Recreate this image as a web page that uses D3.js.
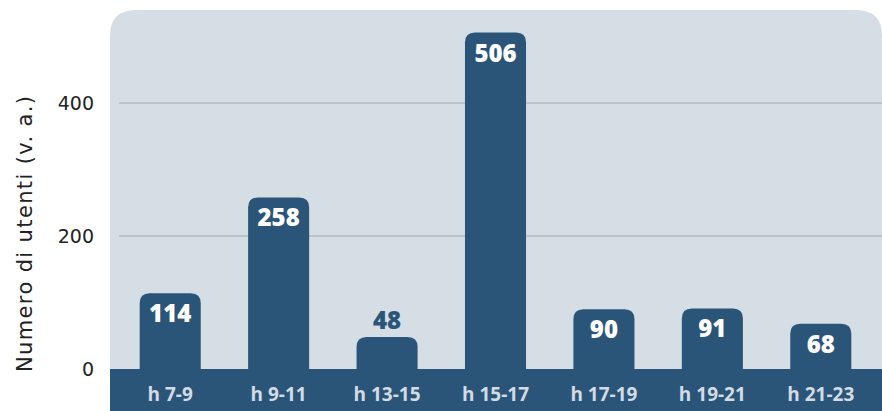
<!DOCTYPE html>
<html>
<head>
<meta charset="utf-8">
<script src="https://cdn.jsdelivr.net/npm/d3@7"></script>
<style>
  html, body { margin: 0; padding: 0; background: #fff; }
  svg { display: block; }
</style>
</head>
<body>
<div id="chart"></div>
<script>
// Fasce orarie e numero di utenti
const fasce = ["h 7-9", "h 9-11", "h 13-15", "h 15-17", "h 17-19", "h 19-21", "h 21-23"];
const utenti = [114, 258, 48, 506, 90, 91, 68];
const yTicks = [0, 200, 400];

const width = 882, height = 411;
const navy = "#2a5579";
const panel = "#d5dde5";

const svg = d3.select("#chart").append("svg")
  .attr("width", width)
  .attr("height", height);

const x = d3.scaleBand()
  .domain(fasce)
  .range([116, 875])
  .paddingInner(0.437)
  .paddingOuter(0.2185);

const y = d3.scaleLinear()
  .domain([0, 400])
  .range([369, 103]);

// panel background with rounded top corners
const px = 110, py = 10, pr = 26;
svg.append("path")
  .attr("d", `M${px},${height} L${px},${py + pr} Q${px},${py} ${px + pr},${py} L${width - pr},${py} Q${width},${py} ${width},${py + pr} L${width},${height} Z`)
  .attr("fill", panel);

// gridlines
svg.append("g")
  .selectAll("line")
  .data(yTicks.filter(d => d > 0))
  .join("line")
  .attr("x1", 119).attr("x2", width)
  .attr("y1", d => y(d)).attr("y2", d => y(d))
  .attr("stroke", "#a3a8ae")
  .attr("stroke-width", 1.2);

// bottom band
svg.append("rect")
  .attr("x", px).attr("y", y(0))
  .attr("width", width - px).attr("height", height - y(0))
  .attr("fill", navy);

// bars: rounded top, flat bottom
const r = 10;
svg.append("g")
  .selectAll("path")
  .data(utenti)
  .join("path")
  .attr("fill", navy)
  .attr("d", (d, i) => {
    const x0 = x(fasce[i]), w = x.bandwidth(), t = y(d), b = y(0) + 1;
    return `M${x0},${b} L${x0},${t + r} Q${x0},${t} ${x0 + r},${t} L${x0 + w - r},${t} Q${x0 + w},${t} ${x0 + w},${t + r} L${x0 + w},${b} Z`;
  });

// value labels
svg.append("g")
  .selectAll("text")
  .data(utenti)
  .join("text")
  .attr("x", (d, i) => x(fasce[i]) + x.bandwidth() / 2)
  .attr("y", d => (y(0) - y(d) > 40) ? y(d) + 29 : y(d) - 8)
  .attr("text-anchor", "middle")
  .attr("font-family", "'Open Sans', sans-serif")
  .attr("font-weight", 800)
  .attr("font-size", 24)
  .attr("fill", d => (y(0) - y(d) > 40) ? "#fff" : navy)
  .text(d => d);

// x labels
svg.append("g")
  .selectAll("text")
  .data(fasce)
  .join("text")
  .attr("x", d => x(d) + x.bandwidth() / 2)
  .attr("y", 401)
  .attr("text-anchor", "middle")
  .attr("font-family", "'Open Sans', sans-serif")
  .attr("font-weight", 700)
  .attr("font-size", 19)
  .attr("fill", "#d3dbe4")
  .text(d => d);

// y tick labels
svg.append("g")
  .selectAll("text")
  .data(yTicks)
  .join("text")
  .attr("x", 94)
  .attr("y", d => y(d))
  .attr("dy", "0.36em")
  .attr("text-anchor", "end")
  .attr("font-family", "'DejaVu Sans', sans-serif")
  .attr("font-size", 19)
  .attr("fill", "#222")
  .text(d => d);

// y axis title
svg.append("text")
  .attr("transform", "translate(32,234) rotate(-90)")
  .attr("text-anchor", "middle")
  .attr("font-family", "'DejaVu Sans', sans-serif")
  .attr("font-size", 21)
  .attr("textLength", 276)
  .attr("lengthAdjust", "spacing")
  .attr("fill", "#222")
  .text("Numero di utenti (v. a.)");
</script>
</body>
</html>
